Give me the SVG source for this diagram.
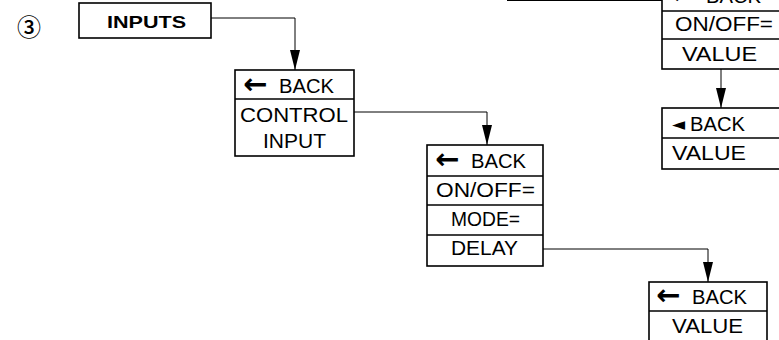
<svg xmlns="http://www.w3.org/2000/svg" width="779" height="340" viewBox="0 0 779 340">
<defs>
<marker id="ah" markerWidth="20" markerHeight="10" refX="20" refY="5" orient="auto" markerUnits="userSpaceOnUse" viewBox="0 0 20 10">
<path d="M0,0 L20,5 L0,10 Z" fill="#000"/>
</marker>
</defs>
<style>
.box{fill:#fff;stroke:#000;stroke-width:1.6}
.div{stroke:#000;stroke-width:1.5}
.t{font-family:"Liberation Sans",Arial,sans-serif;font-size:20px;fill:#000}
.b{font-weight:bold;font-size:17px}
.ar{font-family:"DejaVu Sans","Liberation Sans",sans-serif;font-weight:bold;font-size:29px}
.tri{font-family:"DejaVu Sans","Liberation Sans",sans-serif;font-size:17px}
.c{fill:none;stroke:#000;stroke-width:1}
</style>
<rect width="779" height="340" fill="#fff"/>
<g id="connectors">
<path class="c" d="M211,18 H295 V70" marker-end="url(#ah)"/>
<path class="c" d="M354,112 H487 V145" marker-end="url(#ah)"/>
<path class="c" d="M543,249 H708 V282" marker-end="url(#ah)"/>
<path class="c" d="M721,69 V108" marker-end="url(#ah)"/>
<path class="c" d="M507,0.5 H662"/>
</g>
<g id="label3"><text x="29" y="36" font-family="'Noto Sans CJK JP','DejaVu Sans',sans-serif" font-weight="500" font-size="24" text-anchor="middle">③</text></g>
<g id="inputs">
<rect class="box" x="79" y="3" width="132" height="35"/>
<text class="t b" x="107" y="28" textLength="79" lengthAdjust="spacingAndGlyphs">INPUTS</text>
</g>
<g id="control">
<rect class="box" x="235" y="70" width="119" height="86"/>
<line class="div" x1="235" y1="99" x2="354" y2="99"/>
<text class="t" y="93"><tspan class="ar" x="243" dy="1">←</tspan><tspan x="279" dy="-1" textLength="55" lengthAdjust="spacingAndGlyphs">BACK</tspan></text>
<text class="t" x="240" y="122" textLength="108" lengthAdjust="spacingAndGlyphs">CONTROL</text>
<text class="t" x="263" y="148" textLength="63" lengthAdjust="spacingAndGlyphs">INPUT</text>
</g>
<g id="onoff-mode">
<rect class="box" x="427" y="145" width="116" height="121"/>
<line class="div" x1="427" y1="176" x2="543" y2="176"/>
<line class="div" x1="427" y1="205" x2="543" y2="205"/>
<line class="div" x1="427" y1="235" x2="543" y2="235"/>
<text class="t" y="168"><tspan class="ar" x="435" dy="1">←</tspan><tspan x="471" dy="-1" textLength="55" lengthAdjust="spacingAndGlyphs">BACK</tspan></text>
<text class="t" x="436" y="197" textLength="99" lengthAdjust="spacingAndGlyphs">ON/OFF=</text>
<text class="t" x="451" y="226" textLength="69" lengthAdjust="spacingAndGlyphs">MODE=</text>
<text class="t" x="451" y="255" textLength="67" lengthAdjust="spacingAndGlyphs">DELAY</text>
</g>
<g id="delay-value">
<rect class="box" x="649" y="282" width="118" height="60"/>
<line class="div" x1="649" y1="311" x2="767" y2="311" stroke-width="2.5"/>
<text class="t" y="304"><tspan class="ar" x="656" dy="1">←</tspan><tspan x="692" dy="-1" textLength="55" lengthAdjust="spacingAndGlyphs">BACK</tspan></text>
<text class="t" x="672" y="333" textLength="71" lengthAdjust="spacingAndGlyphs">VALUE</text>
</g>
<g id="top-onoff">
<rect class="box" x="662" y="-20" width="130" height="89"/>
<line class="div" x1="662" y1="11" x2="779" y2="11"/>
<line class="div" x1="662" y1="39" x2="779" y2="39"/>
<text class="t" y="3"><tspan class="ar" x="670" dy="1">←</tspan><tspan x="706" dy="-1" textLength="55" lengthAdjust="spacingAndGlyphs">BACK</tspan></text>
<text class="t" x="675" y="31" textLength="98" lengthAdjust="spacingAndGlyphs">ON/OFF=</text>
<text class="t" x="682" y="61" textLength="75" lengthAdjust="spacingAndGlyphs">VALUE</text>
</g>
<g id="top-value">
<rect class="box" x="662" y="108" width="130" height="61"/>
<line class="div" x1="662" y1="138" x2="779" y2="138"/>
<text class="t" y="131"><tspan class="tri" x="672" dy="-1">◄</tspan><tspan x="690" dy="1" textLength="55" lengthAdjust="spacingAndGlyphs">BACK</tspan></text>
<text class="t" x="672" y="160" textLength="74" lengthAdjust="spacingAndGlyphs">VALUE</text>
</g>
</svg>
